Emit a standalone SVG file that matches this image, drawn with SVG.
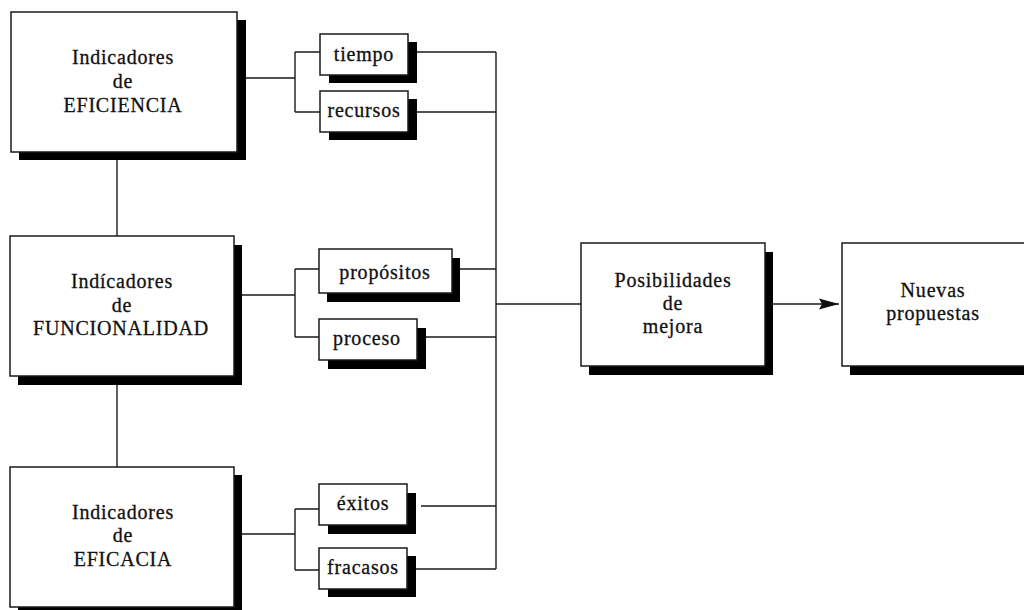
<svg xmlns="http://www.w3.org/2000/svg" width="1024" height="610" viewBox="0 0 1024 610">
  <style>
    .box { fill: #ffffff; stroke: #1a1a1a; stroke-width: 1.5; }
    .shadow { fill: #000000; }
    .label { font-family: "Liberation Serif", "Times New Roman", serif; font-size: 20px; letter-spacing: 0.8px; fill: #111111; stroke: #111111; stroke-width: 0.3; text-anchor: middle; }
    .wire { fill: none; stroke: #1a1a1a; stroke-width: 1.4; }
  </style>
  <defs>
    <marker id="arrow" markerUnits="userSpaceOnUse" markerWidth="22" markerHeight="12" refX="20" refY="6" orient="auto">
      <path d="M0,0.5 L20,6 L0,11.5 L3,6 Z" fill="#111111"/>
    </marker>
  </defs>
  <rect width="1024" height="610" fill="#ffffff"/>

  <!-- connectors -->
  <g id="connectors" class="wire">
    <!-- links between the indicator groups -->
    <path d="M117,160 V236"/>
    <path d="M117,385 V467"/>
    <!-- eficiencia fork -->
    <path d="M245,78 H295 M295,52 V112 M295,52 H320 M295,112 H320"/>
    <path d="M417,52 H496 M417,112 H496"/>
    <!-- funcionalidad fork -->
    <path d="M242,295 H295 M295,269 V337 M295,269 H319 M295,337 H319"/>
    <path d="M460,269 H496 M426,337 H496"/>
    <!-- eficacia fork -->
    <path d="M242,534 H295 M295,509 V570 M295,509 H319 M295,570 H319"/>
    <path d="M421,506 H496 M416,569 H496"/>
    <!-- collector -->
    <path d="M496,52 V569"/>
    <path d="M496,304 H581"/>
    <path d="M773,304 H839" marker-end="url(#arrow)"/>
  </g>

  <g id="eficiencia">
    <rect class="shadow" x="19" y="20" width="227" height="140"/>
    <rect class="box" x="11" y="12" width="226" height="140"/>
    <text class="label" x="123" y="64">Indicadores</text>
    <text class="label" x="123" y="88">de</text>
    <text class="label" x="123" y="112">EFICIENCIA</text>
  </g>

  <g id="funcionalidad">
    <rect class="shadow" x="18" y="245" width="224" height="140"/>
    <rect class="box" x="10" y="236" width="224" height="140"/>
    <text class="label" x="122" y="288">Indícadores</text>
    <text class="label" x="122" y="312">de</text>
    <text class="label" x="121" y="335">FUNCIONALIDAD</text>
  </g>

  <g id="eficacia">
    <rect class="shadow" x="18" y="475" width="224" height="140"/>
    <rect class="box" x="10" y="467" width="224" height="140"/>
    <text class="label" x="123" y="519">Indicadores</text>
    <text class="label" x="123" y="542">de</text>
    <text class="label" x="123" y="566">EFICACIA</text>
  </g>

  <g id="tiempo">
    <rect class="shadow" x="329" y="42" width="88" height="41"/>
    <rect class="box" x="320" y="34" width="88" height="41"/>
    <text class="label" x="364" y="61">tiempo</text>
  </g>

  <g id="recursos">
    <rect class="shadow" x="329" y="99" width="88" height="41"/>
    <rect class="box" x="320" y="91" width="88" height="41"/>
    <text class="label" x="364" y="117">recursos</text>
  </g>

  <g id="propositos">
    <rect class="shadow" x="327" y="258" width="133" height="44"/>
    <rect class="box" x="319" y="249" width="133" height="44"/>
    <text class="label" x="385" y="279">propósitos</text>
  </g>

  <g id="proceso">
    <rect class="shadow" x="328" y="328" width="98" height="41"/>
    <rect class="box" x="319" y="319" width="98" height="41"/>
    <text class="label" x="367" y="345">proceso</text>
  </g>

  <g id="exitos">
    <rect class="shadow" x="328" y="493" width="88" height="41"/>
    <rect class="box" x="319" y="484" width="88" height="41"/>
    <text class="label" x="363" y="510">éxitos</text>
  </g>

  <g id="fracasos">
    <rect class="shadow" x="328" y="556" width="88" height="41"/>
    <rect class="box" x="319" y="548" width="88" height="41"/>
    <text class="label" x="363" y="574">fracasos</text>
  </g>

  <g id="posibilidades">
    <rect class="shadow" x="589" y="252" width="184" height="123"/>
    <rect class="box" x="581" y="243" width="184" height="123"/>
    <text class="label" x="673" y="287">Posibilidades</text>
    <text class="label" x="673" y="310">de</text>
    <text class="label" x="673" y="333">mejora</text>
  </g>

  <g id="nuevas">
    <rect class="shadow" x="850" y="252" width="200" height="123"/>
    <rect class="box" x="842" y="243" width="200" height="123"/>
    <text class="label" x="933" y="297">Nuevas</text>
    <text class="label" x="933" y="320">propuestas</text>
  </g>
</svg>
